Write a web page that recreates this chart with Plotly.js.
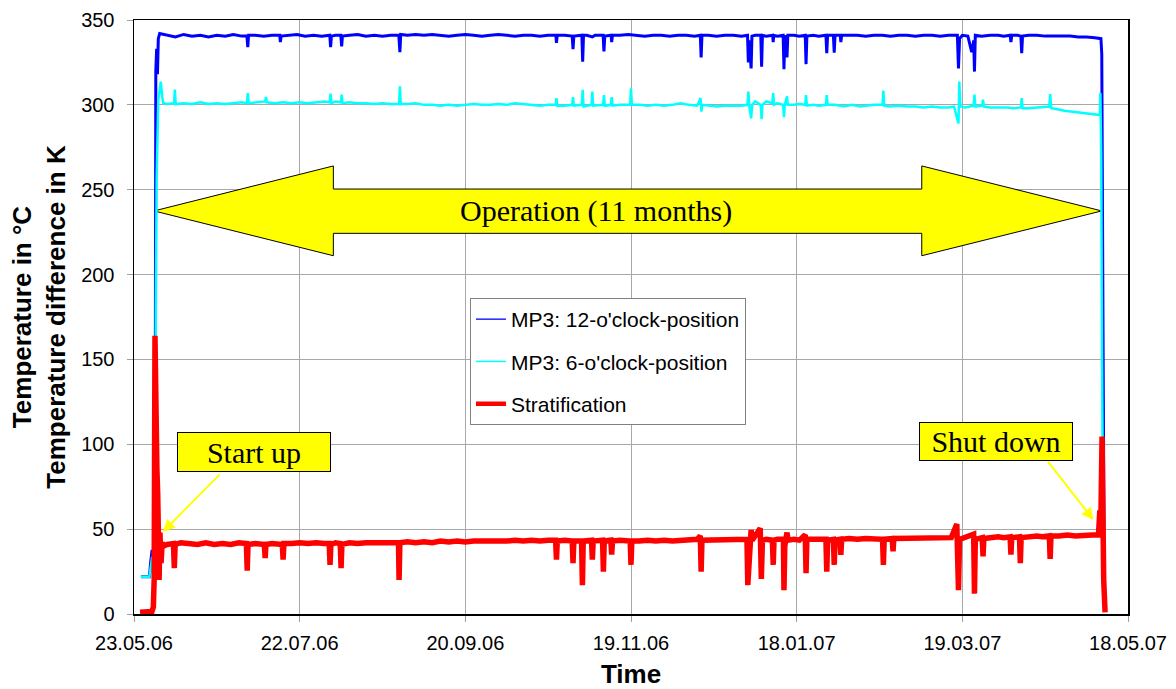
<!DOCTYPE html>
<html>
<head>
<meta charset="utf-8">
<script src="https://cdn.plot.ly/plotly-3.0.1.min.js"></script>
<style>html,body{margin:0;padding:0;background:#fff;}#chart{width:1176px;height:689px;}</style>
</head>
<body>
<div id="chart"></div>
<script>
// ---- Data (day offset from 23.05.2006, value) ----
const startDate = '2006-05-23';
const seriesNames = ["MP3: 12-o'clock-position", "MP3: 6-o'clock-position", "Stratification"];

const blue12 = [
[2.5,22],[5.6,22],[6.0,30],[6.5,37],[7.4,37],[7.7,120],[7.9,320],[8.2,333],[8.5,318],[8.8,339],[9.3,342],
[12,341],[15,340],[18,341.5],[21,340.5],[24,341],[27,340],[30,341],[33,340.5],[36,341.5],[39,340.5],
[40.9,340.5],[41.2,334],[41.5,341],[44,341],[47,340.5],[50,341],[52.8,341],[53,337],[53.3,340.5],[56,341],[59,341.5],[62,340.5],[65,341],[68,340.5],
[70.9,341],[71.2,334],[71.5,340.5],[73,341],[74.9,341],[75.2,334.5],[75.5,340.5],[78,341],[81,341.5],[84,340.5],[87,341],[90,340.5],[93,341],
[95.9,341],[96.3,331],[96.6,341.5],[99,341],[102,341.5],[105,341],[108,341.5],[111,341],[114,340.5],[117,341],[120,341.5],[123,341],[126,340.5],
[129,341],[132,341.5],[135,341],[138,340.5],[141,341],[144,341],[147,340.5],[150,341],
[152.8,341],[153,336.5],[153.3,341],[156,341],[158.7,340.5],[159,332.8],[159.3,340.5],[162.2,341],[162.5,325.5],[162.8,341],[164,341],[166,340],[167,341],
[169.9,341],[170.2,331.5],[170.5,340.5],[172.8,341],[173,337],[173.3,341],[176,341],[179,341.5],[182,341],[185,340.5],[188,341],[191,341],[194,340.5],[197,341],[200,341],[203,340.5],
[205.1,341],[205.4,328],[205.7,341],[208,341],[211,340.5],[214,341],[217,341],[220,340.5],[222.2,341],[222.5,325],[222.8,338],[223.5,321.5],[223.8,340.5],[225,341],
[227,341],[227.3,322.5],[227.6,341],[229,340.5],[231.3,341],[231.5,337],[231.7,341],[233,340.5],[235.1,341],[235.4,321],[235.7,341],[236.5,328],[236.8,341],
[239,341],[241,340.5],[243.1,341],[243.4,324],[243.7,340.5],[246,341],[248,340.5],[250.6,341],[250.9,330.4],[251.2,341],[253.3,341],[253.6,330.8],[253.9,341],
[255.8,341],[256,337],[256.3,341],[259,341],[262,341],[265,340.5],[268,341],[271,341],[274,340.5],[277,341],[280,341],[283,340.5],[286,341],[289,341],[292,340.5],[295,341],
[298.2,341],[298.6,321.5],[299.0,339],[300,341],[302,340.5],[303.4,331],[304.1,338],[304.4,319.6],[304.7,341],[307,340.5],[310,341],[313,341],[315,340.5],
[317.3,341],[317.6,337],[317.9,341],[320,341],[321.2,340.5],[321.5,330.4],[321.8,340.5],[324,341],[327,341],[330,340.5],[333,340.5],[336,340.5],[339,340.5],
[342,340],[345,340],[348,339.5],[350.2,339],[350.5,330],[350.8,250],[351.0,190],[351.3,46]
];

const cyan6 = [
[2.5,22],[5.6,22],[6.0,27],[6.5,33],[7.4,35],[7.7,45],[7.9,180],[8.2,256],[8.8,303],[9.7,313.7],[10.2,305],[10.6,301],
[12,300.5],[14.5,301],[14.8,309],[15.1,300.5],[18,301],[21,300.5],[24,301.5],[27,300.5],[30,301],[33,300.5],[36,301],[39,301.5],
[40.9,301],[41.2,307],[41.5,301],[44,301.5],[47.5,302],[47.8,304.6],[48.1,301.5],[51,301],[54,301.5],[57,301],[60,301.5],[63,301],[66,301.5],[69,302],
[70.9,301.5],[71.2,306.6],[71.5,301],[73,302],[74.9,301.5],[75.2,306],[75.5,301],[78,301.5],[81,301],[84,301],[87,300.5],[90,301],[93,300.5],
[96.0,300.5],[96.3,311],[96.6,300.5],[99,300.5],[102,301],[105,300],[108,300],[111,299.5],[114,300],[117,299.5],[120,300],[123,300.5],[126,300],
[129,300],[132,300.5],[135,300],[138,301],[141,300.5],[144,300],[147,299.5],[150,300],
[152.7,300],[153,304],[153.3,299.5],[156,299.5],[158.7,300],[159,304.6],[159.3,299.5],[162.2,300],[162.5,308.8],[162.8,299],[165.7,300],[166,307.8],[166.3,299.5],
[169.9,300],[170.2,305.8],[170.5,299.5],[172.7,300],[173,304.6],[173.3,299.5],[176,300],[179.7,300],[180,309.8],[180.3,300],[183,300],[186,299.5],[189,300],
[192,299.5],[195,300],[198,301],[201,300],[204,299.5],[205.2,304],[205.5,296],[205.8,300],[208,299.5],[211,299],[214,299.5],[217,299.5],[220,299.5],
[222.2,300],[222.5,307.8],[222.9,299],[223.5,292],[223.9,300],[225,302],[227,300],[227.3,291.5],[227.6,300],[229,302],[231.2,301],[231.5,307],[231.8,300],
[233,301],[235.1,300],[235.4,292.7],[235.7,300],[236.5,305],[236.8,300],[239,300],[241,300.5],[243.1,300],[243.4,305.8],[243.7,299.5],[246,300],[248,299.5],
[250.6,300],[250.9,305.8],[251.2,300],[254,300],[257,299],[260,300],[263,299],[266,299.5],[268,300],[271.1,300],[271.4,308.4],[271.7,299.5],[274,299],
[277,299.5],[280,299],[283,299],[286,298.5],[289,299],[292,298.5],[295,298.5],[297,299],[298.6,289],[298.9,313.7],[299.3,299],[301,298.5],
[304.1,299.5],[304.4,306],[304.7,299],[307.2,299.5],[307.5,303],[307.8,299],[310,298.5],[313,298.5],[316,298.5],[319,298],[321.2,298.5],[321.5,304],[321.8,298],
[324,298],[327,298.5],[329,298.5],[331.5,299],[331.8,306.4],[332.2,298],[334,297.5],[337,296.5],[340,296],[343,295.5],[346,295],[349,294.5],[349.8,294],
[350.0,307],[350.3,270],[350.6,150],[351.0,46]
];

const stratification = [
[2.2,1],[6.5,1.5],[7.0,4],[7.3,20],[7.6,164],[7.8,120],[8.0,95],[8.3,85],[8.6,70],[8.8,50],[9.1,20],[9.4,48],[9.8,30],[10.2,42],[10.8,40],
[12,41],[14.3,41.5],[14.6,27],[14.9,41],[17,42],[20,41.5],[23,41],[26,42],[29,41],[32,41.5],[35,41],[38,42],[40.7,41.5],[41,25.5],[41.3,41],
[44,41.5],[47.2,41],[47.5,33],[47.8,41],[50,41.5],[53.7,41],[54,32],[54.3,41.5],[57,41.5],[60,42],[63,41.5],[66,42],[69,41.5],
[70.7,41.5],[71,29],[71.3,41],[73,42],[74.7,41.5],[75,27],[75.3,41],[78,42],[81,41.5],[84,42],[87,42],[90,41.5],[93,42],
[95.8,42],[96,20],[96.3,42],[99,42.5],[102,42],[105,42.5],[108,42],[111,43],[114,42.5],[117,43],[120,42.5],[123,43],[126,43],[129,42.5],
[132,43],[135,43],[138,43.5],[141,43],[144,43.5],[147,43],[150,43.5],
[152.7,43.5],[153,32],[153.3,43],[156,43.5],[158.7,43],[159,30],[159.3,43],[162.1,43],[162.4,17],[162.7,43],[165.7,43.5],[166,32],[166.3,43],
[169.7,43.5],[170,25],[170.3,43],[172.7,43.5],[173,35],[173.3,43],[176,43.5],[179.7,43],[180,28.9],[180.3,43],[183,43],[186,43.5],[189,43],
[192,43.5],[195,43],[198,43.5],[201,43.5],[204,44],[205.1,46],[205.4,25],[205.7,43.5],[208,43.5],[211,44],[214,43.5],[217,44],[220,43.5],
[222.0,44],[222.3,17],[222.7,35],[223.5,49.5],[223.9,43.5],[226.8,50.5],[227.2,20.6],[227.6,43.5],[229,44],[231.2,43.5],[231.5,28.9],[231.8,43.5],
[233,44],[235.2,44],[235.4,14],[235.7,40],[236.5,48],[236.9,43.5],[239,44],[241,43.5],[243.1,46.7],[243.4,24],[243.7,44],[246,44],[248,43.5],
[250.6,44],[250.9,25],[251.2,43.5],[253.3,44],[253.6,28.9],[253.9,43.5],[255.7,44],[256,34.8],[256.3,44],[259,44.5],[262,44],[265,44.5],[268,44],
[271.1,44],[271.4,28.9],[271.7,44],[274.6,44.5],[274.9,37],[275.2,44.5],[278,44.5],[281,44.5],[284,45],[287,44.5],[290,45],[293,44.5],[296,45],
[298.0,53],[298.6,14],[299.0,44],[301,45],[304.1,47],[304.4,12],[304.7,44],[307.2,45],[307.5,34],[307.8,44.5],[310,45],[313,45.5],[315,45],
[317.3,45.5],[317.6,35],[317.9,45],[320.7,45.5],[321,30],[321.3,45],[324,45.5],[327,46],[329,45.5],[331.5,46],[331.8,32.5],[332.1,46],
[335,46],[338,46.5],[341,46],[344,46.5],[347,46.5],[349.3,46.5],[349.8,61],[350.1,47],[350.6,104.5],[351.2,20],[351.7,1]
];

const yTicks = [0, 50, 100, 150, 200, 250, 300, 350];
const xTickSpacingDays = 60;
const xSpanDays = 360;

// ---- helpers ----
const DAY = 86400000;
const T0 = Date.parse(startDate + 'T00:00:00Z');
function dayToDate(d) {
  return new Date(T0 + d * DAY).toISOString().slice(0, 19).replace('T', ' ');
}
function pathDate(d) { return dayToDate(d).replace(' ', '_'); }

function lineTrace(data, name, color, width) {
  return {
    type: 'scatter', mode: 'lines',
    x: data.map(p => dayToDate(p[0])),
    y: data.map(p => p[1]),
    line: { color: color, width: width },
    name: name, showlegend: false, hoverinfo: 'skip'
  };
}
function legendTrace(name, color, width, grp) {
  return {
    type: 'scatter', mode: 'lines', x: [null], y: [null],
    line: { color: color, width: width }, name: name,
    showlegend: true, legendgroup: grp
  };
}

const COL_BLUE = '#0000ff', COL_CYAN = '#00ffff', COL_RED = '#ff0000', COL_YEL = '#ffff00';

const traces = [
  lineTrace(blue12, seriesNames[0], COL_BLUE, 3),
  lineTrace(cyan6, seriesNames[1], COL_CYAN, 2.5),
  lineTrace(stratification, seriesNames[2], COL_RED, 5.5),
  legendTrace(seriesNames[0], COL_BLUE, 1.3, 'a'),
  legendTrace(seriesNames[1], COL_CYAN, 1.5, 'b'),
  legendTrace(seriesNames[2], COL_RED, 4.5, 'c')
];

// double arrow "Operation" geometry (days / values)
const arrL = 7.24, arrLB = 72.2, arrRB = 285.3, arrR = 350.5;
const arrMid = 237.5, arrHeadTop = 264, arrHeadBot = 211.1, arrShaftTop = 250.4, arrShaftBot = 224.3;
const arrowPath =
  'M' + pathDate(arrL) + ',' + arrMid +
  ' L' + pathDate(arrLB) + ',' + arrHeadTop +
  ' L' + pathDate(arrLB) + ',' + arrShaftTop +
  ' L' + pathDate(arrRB) + ',' + arrShaftTop +
  ' L' + pathDate(arrRB) + ',' + arrHeadTop +
  ' L' + pathDate(arrR) + ',' + arrMid +
  ' L' + pathDate(arrRB) + ',' + arrHeadBot +
  ' L' + pathDate(arrRB) + ',' + arrShaftBot +
  ' L' + pathDate(arrLB) + ',' + arrShaftBot +
  ' L' + pathDate(arrLB) + ',' + arrHeadBot + ' Z';

const serif = 'Liberation Serif, Times New Roman, serif';
const sans = 'Liberation Sans, Arial, sans-serif';

const layout = {
  width: 1176, height: 689,
  margin: { l: 134, r: 48, t: 20, b: 75, pad: 0 },
  paper_bgcolor: '#ffffff', plot_bgcolor: '#ffffff',
  font: { family: sans, color: '#000000' },
  xaxis: {
    type: 'date',
    range: [dayToDate(0), dayToDate(xSpanDays)],
    tick0: dayToDate(0), dtick: xTickSpacingDays * DAY,
    tickformat: '%d.%m.%y',
    showgrid: true, gridcolor: '#a8a8a8', gridwidth: 1,
    ticks: 'outside', ticklen: 6, tickcolor: '#a0a0a0', tickwidth: 1,
    showline: true, linecolor: '#000000', linewidth: 1.5, mirror: true,
    zeroline: false,
    tickfont: { family: sans, size: 20, color: '#000000' },
    ticklabelstandoff: 4,
    title: { text: 'Time', font: { family: sans, size: 26, weight: 'bold', color: '#000000' }, standoff: 16 }
  },
  yaxis: {
    range: [0, 350], tickvals: yTicks,
    showgrid: true, gridcolor: '#a8a8a8', gridwidth: 1,
    ticks: 'outside', ticklen: 6, tickcolor: '#a0a0a0', tickwidth: 1,
    showline: true, linecolor: '#000000', linewidth: 1.5, mirror: true,
    zeroline: false,
    tickfont: { family: sans, size: 20, color: '#000000' },
    ticklabelstandoff: 8,
    title: { text: 'Temperature in °C<br>Temperature difference in K', font: { family: sans, size: 26, weight: 'bold', color: '#000000' }, standoff: 8 }
  },
  legend: {
    x: 0.338, y: 0.532, xanchor: 'left', yanchor: 'top',
    bgcolor: '#ffffff', bordercolor: '#808080', borderwidth: 1,
    font: { family: sans, size: 21, color: '#000000' },
    tracegroupgap: 12, traceorder: 'grouped'
  },
  shapes: [
    { type: 'path', xref: 'x', yref: 'y', path: arrowPath, fillcolor: COL_YEL, line: { color: '#000000', width: 1 }, layer: 'between' }
  ],
  annotations: [
    { x: dayToDate(167.3), y: arrMid, xref: 'x', yref: 'y', text: 'Operation (11 months)', showarrow: false,
      font: { family: serif, size: 30, color: '#000000' } },
    { x: dayToDate(10.5), y: 48.5, xref: 'x', yref: 'y', ax: dayToDate(31.5), ay: 83, axref: 'x', ayref: 'y',
      text: '', showarrow: true, arrowcolor: COL_YEL, arrowwidth: 2, arrowhead: 2, arrowsize: 1.2 },
    { x: dayToDate(347.5), y: 55.4, xref: 'x', yref: 'y', ax: dayToDate(330.6), ay: 90.7, axref: 'x', ayref: 'y',
      text: '', showarrow: true, arrowcolor: COL_YEL, arrowwidth: 2, arrowhead: 2, arrowsize: 1.2 },
    { x: dayToDate(43.3), y: 95.2, xref: 'x', yref: 'y', text: 'Start up', showarrow: false,
      bgcolor: COL_YEL, bordercolor: '#000000', borderwidth: 1, borderpad: 1, width: 150, height: 36,
      font: { family: serif, size: 30, color: '#000000' } },
    { x: dayToDate(312.3), y: 101.8, xref: 'x', yref: 'y', text: 'Shut down', showarrow: false,
      bgcolor: COL_YEL, bordercolor: '#000000', borderwidth: 1, borderpad: 1, width: 150, height: 35,
      font: { family: serif, size: 30, color: '#000000' } }
  ]
};

Plotly.newPlot('chart', traces, layout, { staticPlot: true, displayModeBar: false });
</script>
</body>
</html>
